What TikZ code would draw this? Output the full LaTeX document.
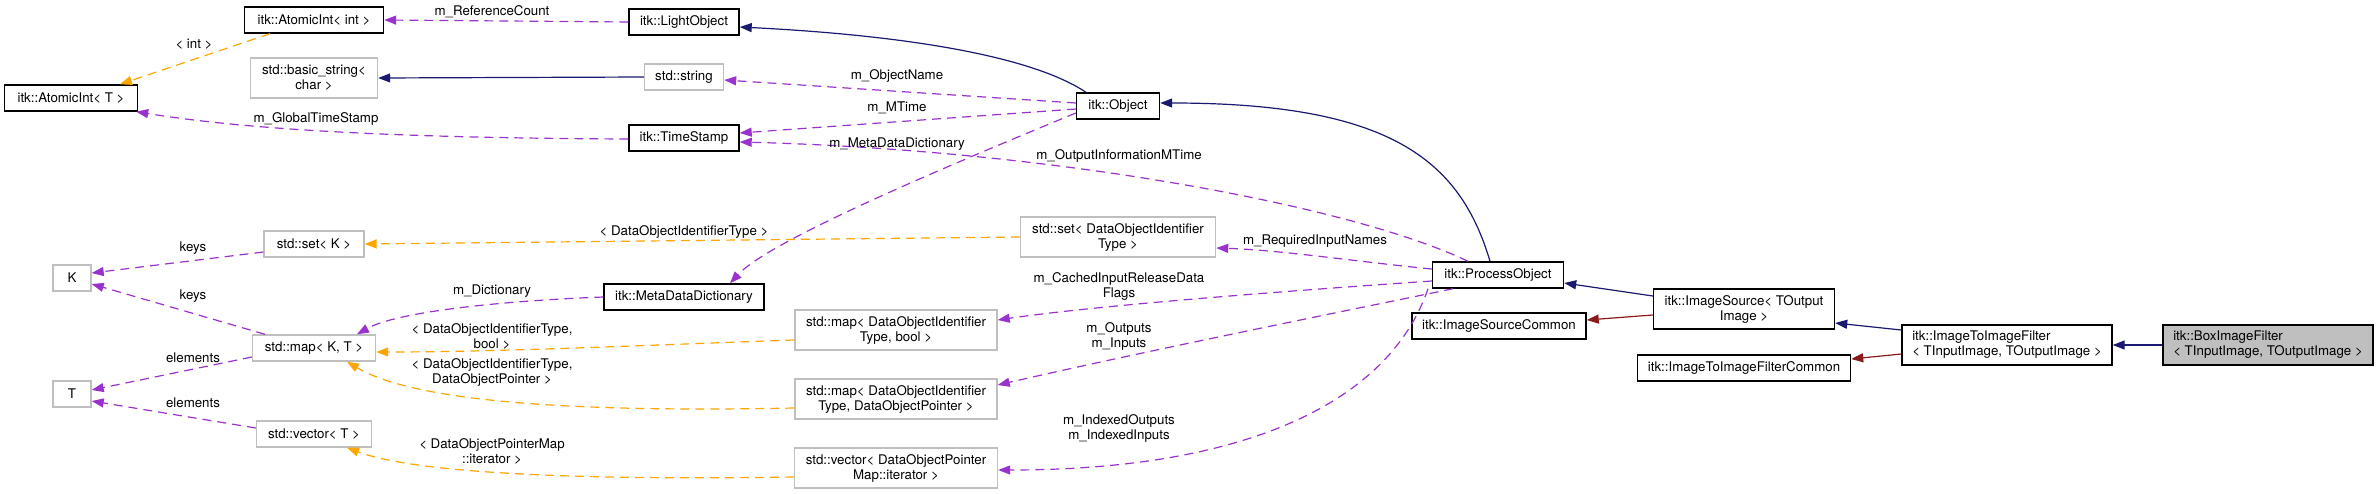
\documentclass[tikz,border=0pt]{standalone}
\usepackage{fontspec}
\setmainfont{TeX Gyre Heros}
\usetikzlibrary{arrows.meta}
\definecolor{member}{HTML}{9A32CD}
\definecolor{tmpl}{HTML}{FFA500}
\definecolor{inherit}{HTML}{191970}
\definecolor{priv}{HTML}{8B1A1A}
\definecolor{undoc}{HTML}{BFBFBF}
\tikzset{
  cls/.style={draw=black, line width=1.4pt, inner sep=0pt, minimum height=26pt,
    font=\fontsize{13.3}{15}\selectfont, align=center},
  ext/.style={cls, draw=undoc},
  twoline/.style={minimum height=40pt},
  lbl/.style={inner sep=0pt, font=\fontsize{13.3}{15}\selectfont, align=center},
  usage/.style={member, line width=1.2pt, dash pattern=on 9pt off 6pt,
    -{Triangle[length=12pt,width=9pt]}},
  tplt/.style={usage, tmpl},
  isa/.style={inherit, line width=1.2pt, -{Triangle[length=12pt,width=9pt]}},
  privisa/.style={isa, priv}
}
\begin{document}
\begin{tikzpicture}[x=1pt, y=-1pt]
    \useasboundingbox (0,0) rectangle (2379,493);
    % left column
    \node[cls, minimum width=133pt] (atomicT) at (71,98) {itk::AtomicInt< T >};
    \node[ext, minimum width=38pt] (nodeK) at (72,278) {K};
    \node[ext, minimum width=38pt] (nodeT) at (72,394) {T};
    \node[cls, minimum width=139pt] (atomicInt) at (314,20) {itk::AtomicInt< int >};
    \node[ext, twoline, minimum width=127pt] (basicStr) at (314,78) {std::basic\_string<\\char >};
    \node[ext, minimum width=100pt] (setK) at (314,244) {std::set< K >};
    \node[ext, minimum width=123pt] (mapKT) at (314,348) {std::map< K, T >};
    \node[ext, minimum width=115pt] (vecT) at (314,434) {std::vector< T >};
    % middle
    \node[cls, minimum width=110pt] (lightObj) at (684,22) {itk::LightObject};
    \node[ext, minimum width=79pt] (stdString) at (684,77) {std::string};
    \node[cls, minimum width=110pt] (timeStamp) at (684,138) {itk::TimeStamp};
    \node[cls, minimum width=160pt] (metaDict) at (684,297) {itk::MetaDataDictionary};
    \node[ext, twoline, minimum width=202pt] (mapBool) at (896,330) {std::map< DataObjectIdentifier\\Type, bool >};
    \node[ext, twoline, minimum width=202pt] (mapPtr) at (896,399) {std::map< DataObjectIdentifier\\Type, DataObjectPointer >};
    \node[ext, twoline, minimum width=203pt] (vecIter) at (896,468) {std::vector< DataObjectPointer\\Map::iterator >};
    \node[cls, minimum width=83pt] (itkObj) at (1118,106) {itk::Object};
    \node[ext, twoline, minimum width=195pt] (setDOI) at (1118,237) {std::set< DataObjectIdentifier\\Type >};
    % right
    \node[cls, minimum width=131pt] (procObj) at (1498,275) {itk::ProcessObject};
    \node[cls, minimum width=174pt] (imgSrcCommon) at (1499,326) {itk::ImageSourceCommon};
    \node[cls, twoline, minimum width=181pt] (imgSrc) at (1744,309) {itk::ImageSource< TOutput\\Image >};
    \node[cls, minimum width=213pt] (itifCommon) at (1744,368) {itk::ImageToImageFilterCommon};
    \node[cls, twoline, minimum width=210pt, align=left] (itif) at (2007,345) {itk::ImageToImageFilter\\< TInputImage, TOutputImage >};
    \node[cls, twoline, minimum width=210pt, align=left, fill=undoc] (boxFilter) at (2268,345) {itk::BoxImageFilter\\< TInputImage, TOutputImage >};

    % connectors
    \draw[usage] (lightObj.west) -- (atomicInt.east);
    \draw[tplt] ([xshift=-44pt]atomicInt.south) -- ([xshift=49pt]atomicT.north);
    \draw[isa] (stdString.west) -- (basicStr.east);
    \draw[usage] ([yshift=-1pt]timeStamp.west) .. controls (400,138) and (250,130) .. ([xshift=-2pt]atomicT.south east);
    \draw[isa] ([xshift=-32pt]itkObj.north) .. controls (1030,55) and (900,35) .. ([yshift=-5pt]lightObj.east);
    \draw[usage] ([yshift=3pt]itkObj.west) -- ([yshift=-3pt]stdString.east);
    \draw[usage] ([yshift=-3pt]itkObj.west) -- ([yshift=5pt]timeStamp.east);
    \draw[usage] ([xshift=-30pt]procObj.north) .. controls (1350,205) and (1050,150) .. ([yshift=-4pt]timeStamp.east);
    \draw[usage] ([yshift=-7pt]itkObj.west) .. controls (950,165) and (770,240) .. ([xshift=46pt]metaDict.north);
    \draw[isa] ([xshift=-8pt]procObj.north) .. controls (1460,160) and (1390,103) .. ([yshift=3pt]itkObj.east);
    \draw[tplt] (setDOI.west) -- (setK.east);
    \draw[usage] ([yshift=6pt]procObj.west) .. controls (1360,262) and (1280,250) .. ([yshift=-11pt]setDOI.east);
    \draw[usage] ([yshift=-8pt]setK.west) -- ([yshift=5pt]nodeK.east);
    \draw[usage] ([xshift=-49pt]mapKT.north) -- ([yshift=-6pt]nodeK.east);
    \draw[usage] (metaDict.west) .. controls (520,300) and (400,310) .. ([xshift=43pt]mapKT.north);
    \draw[tplt] ([yshift=-10pt]mapBool.west) .. controls (650,345) and (500,352) .. ([yshift=-4pt]mapKT.east);
    \draw[tplt] ([yshift=-9pt]mapPtr.west) .. controls (600,412) and (420,405) .. ([xshift=33pt]mapKT.south);
    \draw[usage] ([yshift=-9pt]mapKT.west) -- ([yshift=4pt]nodeT.east);
    \draw[usage] ([yshift=6pt]vecT.west) -- ([yshift=-7pt]nodeT.east);
    \draw[tplt] ([yshift=-9pt]vecIter.west) .. controls (600,480) and (420,475) .. ([xshift=33pt]vecT.south);
    \draw[usage] ([yshift=-6pt]procObj.west) .. controls (1300,290) and (1100,305) .. ([yshift=10pt]mapBool.east);
    \draw[usage] ([xshift=-45pt]procObj.south) .. controls (1350,310) and (1150,350) .. ([yshift=14pt]mapPtr.east);
    \draw[usage] ([xshift=-70pt]procObj.south) .. controls (1390,400) and (1250,470) .. ([yshift=-2pt]vecIter.east);
    \draw[isa] ([yshift=13pt]imgSrc.west) -- ([yshift=-8pt]procObj.east);
    \draw[privisa] ([yshift=-6pt]imgSrc.west) -- ([yshift=6pt]imgSrcCommon.east);
    \draw[isa] ([yshift=15pt]itif.west) -- ([yshift=-14pt]imgSrc.east);
    \draw[privisa] ([yshift=-9pt]itif.west) -- ([yshift=9pt]itifCommon.east);
    \draw[isa] (boxFilter.west) -- (itif.east);

    % edge labels
    \node[lbl] (lRefCount) at (492,12) {m\_ReferenceCount};
    \node[lbl] (lInt) at (194,44) {< int >};
    \node[lbl] (lGlobalTS) at (316,119) {m\_GlobalTimeStamp};
    \node[lbl] (lObjName) at (897,76) {m\_ObjectName};
    \node[lbl] (lMTime) at (897,108) {m\_MTime};
    \node[lbl] (lMetaDict) at (897,144) {m\_MetaDataDictionary};
    \node[lbl] (lOutInfo) at (1119,156) {m\_OutputInformationMTime};
    \node[lbl] (lReqInput) at (1315,241) {m\_RequiredInputNames};
    \node[lbl] (lDOIType) at (684,232) {< DataObjectIdentifierType >};
    \node[lbl] (lKeysSet) at (193,248) {keys};
    \node[lbl] (lKeysMap) at (193,296) {keys};
    \node[lbl] (lDict) at (492,291) {m\_Dictionary};
    \node[lbl] (lBool) at (492,336) {< DataObjectIdentifierType,\\bool >};
    \node[lbl] (lElemMap) at (193,358) {elements};
    \node[lbl] (lPtr) at (492,372) {< DataObjectIdentifierType,\\DataObjectPointer >};
    \node[lbl] (lElemVec) at (193,403) {elements};
    \node[lbl] (lIter) at (492,451) {< DataObjectPointerMap\\::iterator >};
    \node[lbl] (lCached) at (1119,286) {m\_CachedInputReleaseData\\Flags};
    \node[lbl] (lOutputs) at (1119,336) {m\_Outputs\\m\_Inputs};
    \node[lbl] (lIndexed) at (1119,428) {m\_IndexedOutputs\\m\_IndexedInputs};
\end{tikzpicture}
\end{document}
